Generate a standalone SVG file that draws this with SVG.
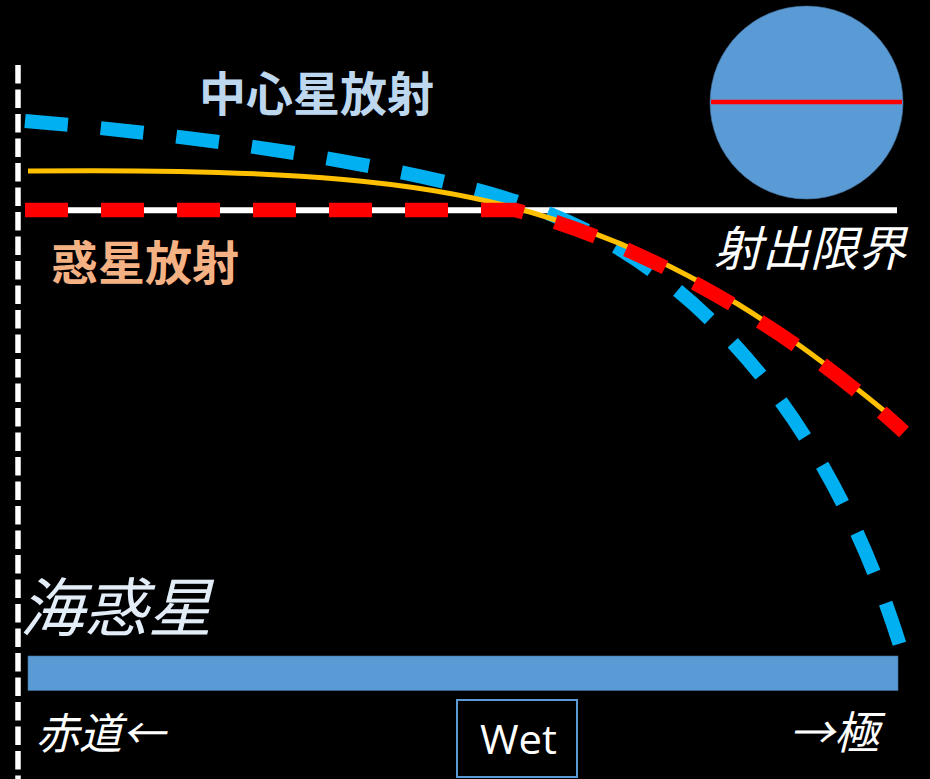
<svg xmlns="http://www.w3.org/2000/svg" width="930" height="779" viewBox="0 0 930 779">
  <style>
    .cjk { font-family: "Noto Sans CJK JP", "Noto Sans", sans-serif; }
    .label-bold { font-weight: bold; font-size: 47px; }
    .label-it { font-style: italic; fill: #ffffff; }
    .dash-curve { fill: none; stroke-dasharray: 43 33; stroke-linecap: butt; }
  </style>

  <!-- background -->
  <rect x="0" y="0" width="930" height="779" fill="#000000"/>

  <!-- equator axis (dashed) -->
  <line id="axis" x1="18" y1="65" x2="18" y2="779" stroke="#ffffff" stroke-width="5.5" stroke-dasharray="18.5 6"/>

  <!-- planet disc with equator -->
  <g id="planet">
    <circle cx="806.5" cy="102.5" r="96.5" fill="#5B9BD5" stroke="#41719C" stroke-width="0.6"/>
    <line x1="711" y1="102" x2="902" y2="102" stroke="#FF0000" stroke-width="4.5"/>
  </g>

  <!-- ocean surface bar -->
  <g id="ocean">
    <rect x="28" y="656" width="870" height="34.5" fill="#5B9BD5" stroke="#41719C" stroke-width="0.6"/>
  </g>

  <!-- emission limit and radiation curves -->
  <g id="curves">
    <line id="limit" x1="25" y1="210.3" x2="897" y2="210.3" stroke="#ffffff" stroke-width="6"/>
    <path id="stellar" class="dash-curve" d="M25,121 C250,140 450,175 540,210 C700,270 835,425 905,662" stroke="#00B0F0" stroke-width="14"/>
    <path id="planetary-total" d="M28,171 C300,168 430,183 530,212 C690,258 800,340 905,428" fill="none" stroke="#FFC000" stroke-width="5"/>
    <path id="planetary" class="dash-curve" d="M25,210 H515 C650,245 800,335 904,432" stroke="#FF0000" stroke-width="14.5"/>
  </g>

  <!-- labels -->
  <g id="labels" class="cjk">
    <text class="label-bold" x="199" y="111" fill="#BDD7EE">中心星放射</text>
    <text class="label-bold" x="51" y="280" fill="#F4B183">惑星放射</text>
    <text class="label-it" x="714" y="266" font-size="48">射出限界</text>
    <text x="20" y="631" font-size="64" font-style="italic" fill="#E2EDF8">海惑星</text>
    <text class="label-it" x="36" y="749" font-size="43">赤道←</text>
    <text class="label-it" x="789" y="749" font-size="45">→極</text>
  </g>

  <!-- wet regime box -->
  <g id="wet">
    <rect x="457" y="700" width="120" height="77" fill="#000000" stroke="#5B9BD5" stroke-width="2"/>
    <text x="480" y="754" font-family="'Open Sans', 'Liberation Sans', sans-serif" font-size="40" fill="#ffffff" textLength="77" lengthAdjust="spacingAndGlyphs">Wet</text>
  </g>
</svg>
